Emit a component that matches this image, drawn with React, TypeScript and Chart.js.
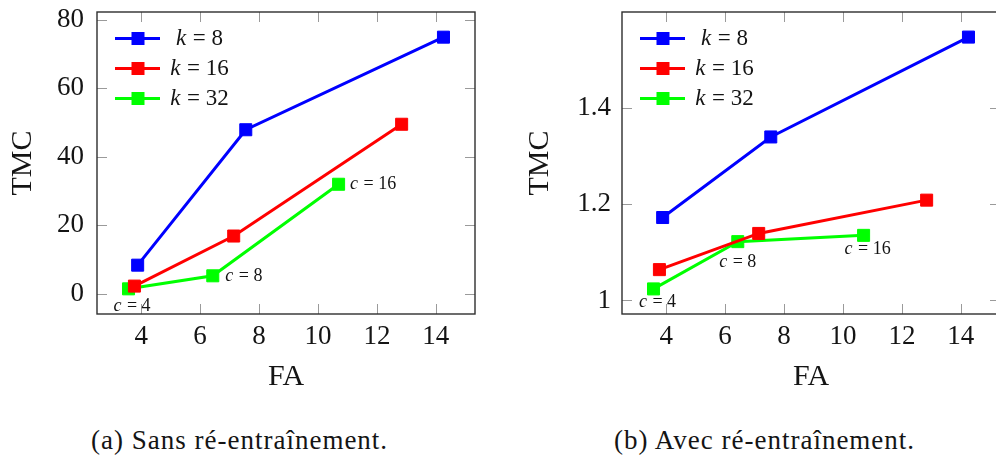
import { useEffect, useRef } from 'react';
import { Chart, registerables } from 'chart.js';

Chart.register(...registerables);

const FONT =
  '"Liberation Serif", "Times New Roman", Tinos, "DejaVu Serif", "Noto Serif", "Nimbus Roman", FreeSerif, serif';

// Series: number of clusters k
const SERIES_LABELS = ['k = 8', 'k = 16', 'k = 32'];
const SERIES_COLORS = ['#0000ff', '#ff0000', '#00ff00'];

// FA (x) per series
const FA_K8 = [3.88, 7.55, 14.26];
const FA_K16 = [3.77, 7.14, 12.84];
const FA_K32 = [3.57, 6.43, 10.7];

// TMC without retraining
const TMC_SANS_K8 = [8.4, 47.9, 74.9];
const TMC_SANS_K16 = [2.3, 16.9, 49.5];
const TMC_SANS_K32 = [1.5, 5.3, 32.0];

// TMC with retraining
const TMC_AVEC_K8 = [1.172, 1.339, 1.546];
const TMC_AVEC_K16 = [1.064, 1.139, 1.208];
const TMC_AVEC_K32 = [1.024, 1.122, 1.135];

// Labels attached to the k = 32 points
const C_LABELS = ['c = 4', 'c = 8', 'c = 16'];

// Tick values
const X_TICKS = [4, 6, 8, 10, 12, 14];
const Y_TICKS_SANS = [0, 20, 40, 60, 80];
const Y_TICKS_AVEC = [1, 1.2, 1.4];

// Axis limits
const X_MIN = 2.5;
const X_MAX = 15.33;
const Y_SANS_MIN = -5.84;
const Y_SANS_MAX = 82.24;
const Y_AVEC_MIN = 0.972;
const Y_AVEC_MAX = 1.598;

const FRAME_COLOR = '#2e2e2e';
const TICK_COLOR = '#9a9a9a';
const TEXT_COLOR = '#141414';

function toPoints(xs: number[], ys: number[]) {
  return xs.map((x, i) => ({ x, y: ys[i] }));
}

// Draws "v = n" with an italic variable followed by upright text
function drawMath(
  ctx: CanvasRenderingContext2D,
  label: string,
  x: number,
  y: number,
  size: number,
  align: 'left' | 'center'
) {
  const v = label.slice(0, 1);
  const rest = label.slice(1);
  const it = `italic ${size}px ${FONT}`;
  const rm = `${size}px ${FONT}`;
  ctx.font = it;
  const w1 = ctx.measureText(v).width;
  ctx.font = rm;
  const w2 = ctx.measureText(rest).width;
  const x0 = align === 'center' ? x - (w1 + w2) / 2 : x;
  ctx.textBaseline = 'middle';
  ctx.textAlign = 'left';
  ctx.fillStyle = TEXT_COLOR;
  ctx.font = it;
  ctx.fillText(v, x0, y);
  ctx.font = rm;
  ctx.fillText(rest, x0 + w1 + 1, y);
}

// Closed frame with inward tick marks on all four sides
const framePlugin = {
  id: 'frame',
  beforeDatasetsDraw(chart: any) {
    const { ctx, chartArea: a, scales } = chart;
    const len = 10;
    ctx.save();
    ctx.strokeStyle = TICK_COLOR;
    ctx.lineWidth = 1;
    ctx.beginPath();
    for (const t of scales.x.ticks) {
      const px = Math.round(scales.x.getPixelForValue(t.value)) + 0.5;
      ctx.moveTo(px, a.bottom);
      ctx.lineTo(px, a.bottom - len);
      ctx.moveTo(px, a.top);
      ctx.lineTo(px, a.top + len);
    }
    for (const t of scales.y.ticks) {
      const py = Math.round(scales.y.getPixelForValue(t.value)) + 0.5;
      ctx.moveTo(a.left, py);
      ctx.lineTo(a.left + len, py);
      ctx.moveTo(a.right, py);
      ctx.lineTo(a.right - len, py);
    }
    ctx.stroke();
    ctx.strokeStyle = FRAME_COLOR;
    ctx.lineWidth = 1.4;
    ctx.strokeRect(a.left, a.top, a.right - a.left, a.bottom - a.top);
    ctx.restore();
  },
};

// Legend inside the plot: line + square marker, then centred label
const seriesLegendPlugin = {
  id: 'seriesLegend',
  afterDatasetsDraw(chart: any) {
    const { ctx, chartArea: a } = chart;
    ctx.save();
    chart.data.datasets.forEach((ds: any, i: number) => {
      const y = a.top + 26.5 + i * 30;
      ctx.strokeStyle = ds.borderColor;
      ctx.lineWidth = 3;
      ctx.beginPath();
      ctx.moveTo(a.left + 18, y);
      ctx.lineTo(a.left + 63, y);
      ctx.stroke();
      ctx.fillStyle = ds.borderColor;
      ctx.fillRect(a.left + 41 - 6.5, y - 6.5, 13, 13);
      drawMath(ctx, ds.label, a.left + 102, y, 23, 'center');
    });
    ctx.restore();
  },
};

// Labels for the k = 32 points
const pointLabelPlugin = {
  id: 'pointLabels',
  afterDatasetsDraw(chart: any, _args: any, opts: any) {
    const { ctx } = chart;
    const meta = chart.getDatasetMeta(2);
    ctx.save();
    meta.data.forEach((pt: any, i: number) => {
      const p = opts.placements[i];
      drawMath(ctx, C_LABELS[i], pt.x + p.dx, pt.y + p.dy, 18, p.align);
    });
    ctx.restore();
  },
};

function makeConfig(
  ys: number[][],
  yMin: number,
  yMax: number,
  yTicks: number[],
  yAxisWidth: number,
  yTickPad: number,
  yTitlePad: number,
  rightPad: number,
  placements: any[]
): any {
  const xs = [FA_K8, FA_K16, FA_K32];
  return {
    type: 'line',
    data: {
      datasets: SERIES_LABELS.map((label, i) => ({
        label,
        data: toPoints(xs[i], ys[i]),
        borderColor: SERIES_COLORS[i],
        backgroundColor: SERIES_COLORS[i],
        borderWidth: 3,
        pointStyle: 'rect',
        pointRadius: 8.5,
        pointBorderWidth: 1,
        pointHoverRadius: 8.5,
        tension: 0,
      })),
    },
    options: {
      responsive: false,
      animation: false,
      layout: { padding: { top: 12, right: rightPad, left: 0, bottom: 0 } },
      plugins: {
        legend: { display: false },
        tooltip: { enabled: false },
        pointLabels: { placements },
      },
      scales: {
        x: {
          type: 'linear',
          min: X_MIN,
          max: X_MAX,
          grid: { display: false, drawTicks: false },
          border: { display: false },
          ticks: {
            padding: 7,
            color: TEXT_COLOR,
            font: { family: FONT, size: 27 },
            callback: (v: number) => String(v),
          },
          afterBuildTicks: (s: any) => {
            s.ticks = X_TICKS.map((v) => ({ value: v }));
          },
          afterFit: (s: any) => {
            s.height = 86;
            s.paddingLeft = 0;
            s.paddingRight = 0;
            s.paddingTop = 0;
            s.paddingBottom = 0;
          },
          title: {
            display: true,
            text: 'FA',
            color: TEXT_COLOR,
            font: { family: FONT, size: 30 },
            padding: { top: 0, bottom: 4.5 },
          },
        },
        y: {
          type: 'linear',
          min: yMin,
          max: yMax,
          grid: { display: false, drawTicks: false },
          border: { display: false },
          ticks: {
            padding: yTickPad,
            color: TEXT_COLOR,
            font: { family: FONT, size: 27 },
            callback: (v: number) => String(v),
          },
          afterBuildTicks: (s: any) => {
            s.ticks = yTicks.map((v) => ({ value: v }));
          },
          afterFit: (s: any) => {
            s.width = yAxisWidth;
            s.paddingLeft = 0;
            s.paddingRight = 0;
            s.paddingTop = 0;
            s.paddingBottom = 0;
          },
          title: {
            display: true,
            text: 'TMC',
            color: TEXT_COLOR,
            font: { family: FONT, size: 30 },
            padding: { top: yTitlePad, bottom: 0 },
          },
        },
      },
    },
    plugins: [framePlugin, seriesLegendPlugin, pointLabelPlugin],
  };
}

function TmcChart({ config, width, height }: { config: () => any; width: number; height: number }) {
  const ref = useRef<HTMLCanvasElement | null>(null);
  useEffect(() => {
    if (!ref.current) return;
    const chart = new Chart(ref.current, config());
    return () => chart.destroy();
  }, [config]);
  return <canvas ref={ref} width={width} height={height} style={{ display: 'block' }} />;
}

const sansConfig = () =>
  makeConfig(
    [TMC_SANS_K8, TMC_SANS_K16, TMC_SANS_K32],
    Y_SANS_MIN,
    Y_SANS_MAX,
    Y_TICKS_SANS,
    97,
    13,
    5,
    23,
    [
      { dx: 3, dy: 17, align: 'center' },
      { dx: 12.5, dy: 0, align: 'left' },
      { dx: 11.5, dy: 0, align: 'left' },
    ]
  );

const avecConfig = () =>
  makeConfig(
    [TMC_AVEC_K8, TMC_AVEC_K16, TMC_AVEC_K32],
    Y_AVEC_MIN,
    Y_AVEC_MAX,
    Y_TICKS_AVEC,
    124,
    11,
    24,
    18,
    [
      { dx: 3.5, dy: 13, align: 'center' },
      { dx: -0.5, dy: 21, align: 'center' },
      { dx: 3.5, dy: 13.5, align: 'center' },
    ]
  );

const captionStyle: any = {
  position: 'absolute',
  top: 424,
  fontFamily: FONT,
  fontSize: 27,
  letterSpacing: '1px',
  lineHeight: '32px',
  color: TEXT_COLOR,
  whiteSpace: 'nowrap',
};

export default function App() {
  return (
    <div
      style={{
        position: 'fixed',
        left: 0,
        top: 0,
        width: 996,
        height: 458,
        overflow: 'hidden',
        background: '#ffffff',
      }}
    >
      <div style={{ position: 'absolute', left: 0, top: 0 }}>
        <TmcChart config={sansConfig} width={498} height={400} />
      </div>
      <div style={{ position: 'absolute', left: 498, top: 0 }}>
        <TmcChart config={avecConfig} width={520} height={400} />
      </div>
      <div style={{ ...captionStyle, left: 91 }}>(a) Sans ré-entraînement.</div>
      <div style={{ ...captionStyle, left: 614 }}>(b) Avec ré-entraînement.</div>
    </div>
  );
}
